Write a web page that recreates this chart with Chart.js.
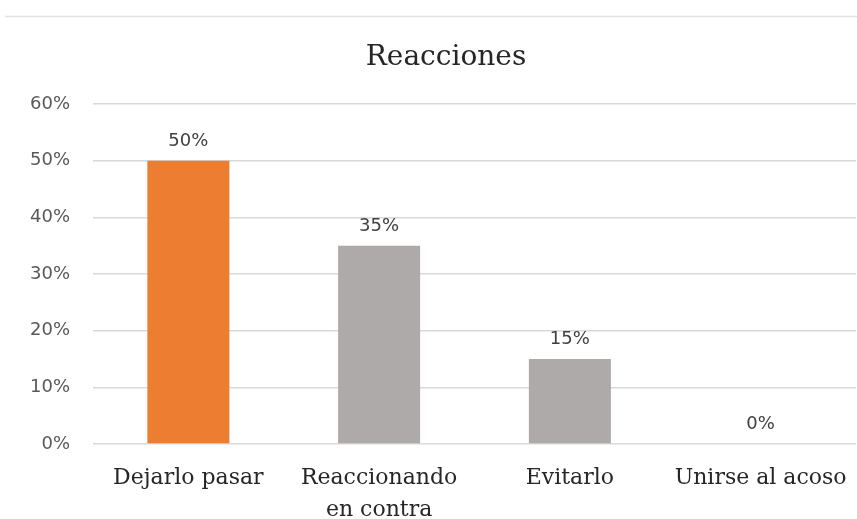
<!DOCTYPE html>
<html>
<head>
<meta charset="utf-8">
<script src="https://cdn.jsdelivr.net/npm/chart.js@4/dist/chart.umd.min.js"></script>
<style>
  html, body { margin: 0; padding: 0; background: #fff; overflow: hidden; }
  #box { width: 857px; height: 519px; }
</style>
</head>
<body>
<div id="box"><canvas id="c"></canvas></div>
<script>
const chartTitle = 'Reacciones'
const categories = ['Dejarlo pasar', ['Reaccionando', 'en contra'], 'Evitarlo', 'Unirse al acoso']
const values = [50, 35, 15, 0]
const barColors = ['#ED7D31', '#AEAAAA', '#AEAAAA', '#AEAAAA']
const yTicks = [0, 10, 20, 30, 40, 50, 60]

// frame line on top + title, drawn on the canvas
const frameAndTitle = {
    id: 'frameAndTitle',
    beforeDraw(chart) {
        const ctx = chart.ctx
        ctx.save()
        ctx.strokeStyle = '#e3e3e3'
        ctx.lineWidth = 1.5
        ctx.beginPath()
        ctx.moveTo(5, 16.5)
        ctx.lineTo(chart.width, 16.5)
        ctx.stroke()
        ctx.fillStyle = '#262626'
        ctx.font = '28px "DejaVu Serif", serif'
        ctx.textAlign = 'center'
        ctx.textBaseline = 'alphabetic'
        ctx.fillText(chartTitle, 446, 65)
        ctx.restore()
    },
}

// value labels above the bars
const valueLabels = {
    id: 'valueLabels',
    afterDatasetsDraw(chart) {
        const ctx = chart.ctx
        const meta = chart.getDatasetMeta(0)
        ctx.save()
        ctx.fillStyle = '#404040'
        ctx.font = '18px "DejaVu Sans", sans-serif'
        ctx.textAlign = 'center'
        ctx.textBaseline = 'alphabetic'
        meta.data.forEach((bar, i) => {
            ctx.fillText(values[i] + '%', bar.x, bar.y - 15)
        })
        ctx.restore()
    },
}

new Chart(document.getElementById('c'), {
    type: 'bar',
    data: {
        labels: categories,
        datasets: [{
            data: values,
            backgroundColor: barColors,
            borderWidth: 0,
            categoryPercentage: 1,
            barPercentage: 0.43,
        }],
    },
    options: {
        responsive: true,
        maintainAspectRatio: false,
        animation: false,
        layout: { padding: { top: 104, left: 0, right: 1, bottom: 0 } },
        plugins: {
            legend: { display: false },
            title: { display: false },
            tooltip: { enabled: false },
        },
        scales: {
            x: {
                afterFit(scale) { scale.height = 75 },
                grid: { display: false },
                border: { display: false },
                ticks: {
                    color: '#262626',
                    font: { family: '"DejaVu Serif", serif', size: 22, lineHeight: 1.45 },
                    padding: 10,
                    maxRotation: 0,
                    autoSkip: false,
                },
            },
            y: {
                min: 0,
                max: 60,
                afterFit(scale) { scale.width = 93 },
                afterBuildTicks(scale) { scale.ticks = yTicks.map(v => ({ value: v })) },
                grid: { color: '#d9d9d9', lineWidth: 1.5, drawTicks: false },
                border: { display: false },
                ticks: {
                    color: '#595959',
                    font: { family: '"DejaVu Sans", sans-serif', size: 18 },
                    padding: 23,
                    callback: v => v + '%',
                },
            },
        },
    },
    plugins: [frameAndTitle, valueLabels],
})
</script>
</body>
</html>
